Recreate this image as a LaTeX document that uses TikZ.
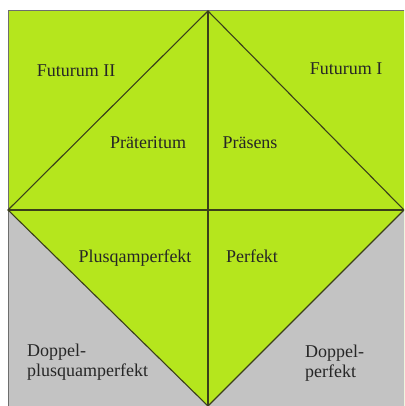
\documentclass[tikz,border=0pt]{standalone}
\usepackage{fontspec}
\setmainfont{Liberation Serif}
\usetikzlibrary{positioning}
\definecolor{tlime}{HTML}{B5E61D}
\definecolor{tgray}{HTML}{C3C3C3}
\definecolor{tedge}{HTML}{6E6E6E}
\definecolor{tline}{HTML}{3A3F1A}

\begin{document}
\begin{tikzpicture}[x=1pt,y=-1pt,
      lbl/.style={inner sep=0pt,font=\fontsize{18}{20}\selectfont,text=black!85},
      tline/.style={draw=tline,line width=1.1pt}]
    \useasboundingbox (0,0) rectangle (404,406);
    \clip (0,0) rectangle (404,406);
    % square, lower corners gray
    \fill[tlime] (8,11) rectangle (410,412);
    \fill[tgray] (8,210) -- (208,406) -- (8,406) -- cycle;
    \fill[tgray] (404,210) -- (208,406) -- (410,412) -- (410,210) -- cycle;
    \draw[tedge,line width=1pt] (8,412) -- (8,11) -- (410,11);
    % diamond and cross
    \coordinate (top) at (208,11);
    \coordinate (lft) at (8,210);
    \coordinate (rgt) at (404,210);
    \coordinate (bot) at (208,406);
    \draw[tline] (top) -- (lft) -- (bot) -- (rgt) -- cycle;
    \draw[tline] (top) -- (bot);
    \draw[tline] (lft) -- (rgt);
    % tenses
    \node[lbl,anchor=base] (fut2) at (76,77) {Futurum II};
    \node[lbl,anchor=base] (fut1) at (346,75) {Futurum I};
    \node[lbl,anchor=base] (praet) at (148,148) {Präteritum};
    \node[lbl,anchor=base] (praes) at (250,148) {Präsens};
    \node[lbl,anchor=base] (plusq) at (135,262) {Plusqamperfekt};
    \node[lbl,anchor=base] (perf) at (252,262) {Perfekt};
    \node[lbl,anchor=north west,align=left] (dplusq) at (27,344) {Doppel-\\plusquamperfekt};
    \node[lbl,anchor=north west,align=left] (dperf) at (305,345) {Doppel-\\perfekt};
\end{tikzpicture}
\end{document}
